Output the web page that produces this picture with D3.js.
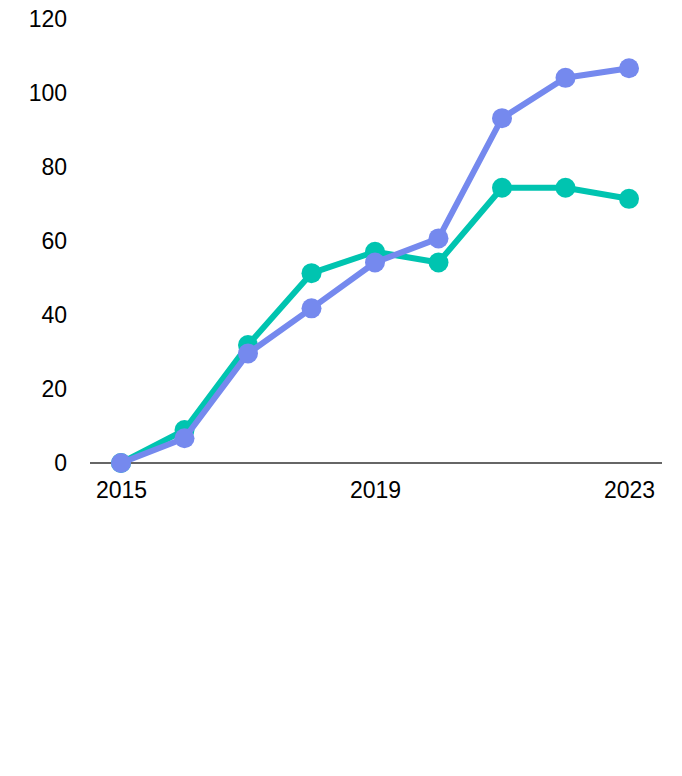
<!DOCTYPE html>
<html>
<head>
<meta charset="utf-8">
<script src="https://cdn.jsdelivr.net/npm/d3@7/dist/d3.min.js"></script>
<style>
  html, body { margin: 0; padding: 0; background: #fff; }
  svg { display: block; font-family: "Liberation Sans", Arial, sans-serif; }
</style>
</head>
<body>
<svg id="chart" width="682" height="776"></svg>
<script>
const years = [2015, 2016, 2017, 2018, 2019, 2020, 2021, 2022, 2023];
const seriesGreen = [0, 8.9, 31.9, 51.3, 57.1, 54.2, 74.4, 74.4, 71.4];
const seriesBlue = [0, 6.7, 29.6, 41.8, 54.2, 60.7, 93.2, 104.1, 106.7];
const yTicks = [0, 20, 40, 60, 80, 100, 120];
const xTicks = [2015, 2019, 2023];

const svg = d3.select("#chart");
const x = d3.scaleLinear().domain([2015, 2023]).range([121, 629]);
const y = d3.scaleLinear().domain([0, 120]).range([463, 19]);

// y labels
const yAxis = d3.axisLeft(y).tickValues(yTicks).tickSize(0).tickPadding(0).tickFormat(d3.format("d"));
const gy = svg.append("g").attr("transform", "translate(67,0)").call(yAxis);
gy.select(".domain").remove();
gy.selectAll("text").attr("font-size", 23).attr("fill", "#000")
  .attr("font-family", "Liberation Sans, Arial, sans-serif");

// baseline
svg.append("line").attr("x1", 90).attr("x2", 662).attr("y1", y(0)).attr("y2", y(0))
  .attr("stroke", "#333").attr("stroke-width", 1.5);

// x labels
const xAxis = d3.axisBottom(x).tickValues(xTicks).tickSize(0).tickPadding(0).tickFormat(d3.format("d"));
const gx = svg.append("g").attr("transform", "translate(0,482)").call(xAxis);
gx.select(".domain").remove();
gx.selectAll("text").attr("font-size", 23).attr("fill", "#000")
  .attr("font-family", "Liberation Sans, Arial, sans-serif");

const line = d3.line().x((d, i) => x(years[i])).y(d => y(d));
const series = [
  { values: seriesGreen, color: "#00c4b0" },
  { values: seriesBlue, color: "#7589ee" }
];
series.forEach(s => {
  svg.append("path").datum(s.values).attr("d", line)
    .attr("fill", "none").attr("stroke", s.color).attr("stroke-width", 6)
    .attr("stroke-linejoin", "round");
  svg.append("g").selectAll("circle").data(s.values).join("circle")
    .attr("cx", (d, i) => x(years[i])).attr("cy", d => y(d))
    .attr("r", 10).attr("fill", s.color);
});
</script>
</body>
</html>
